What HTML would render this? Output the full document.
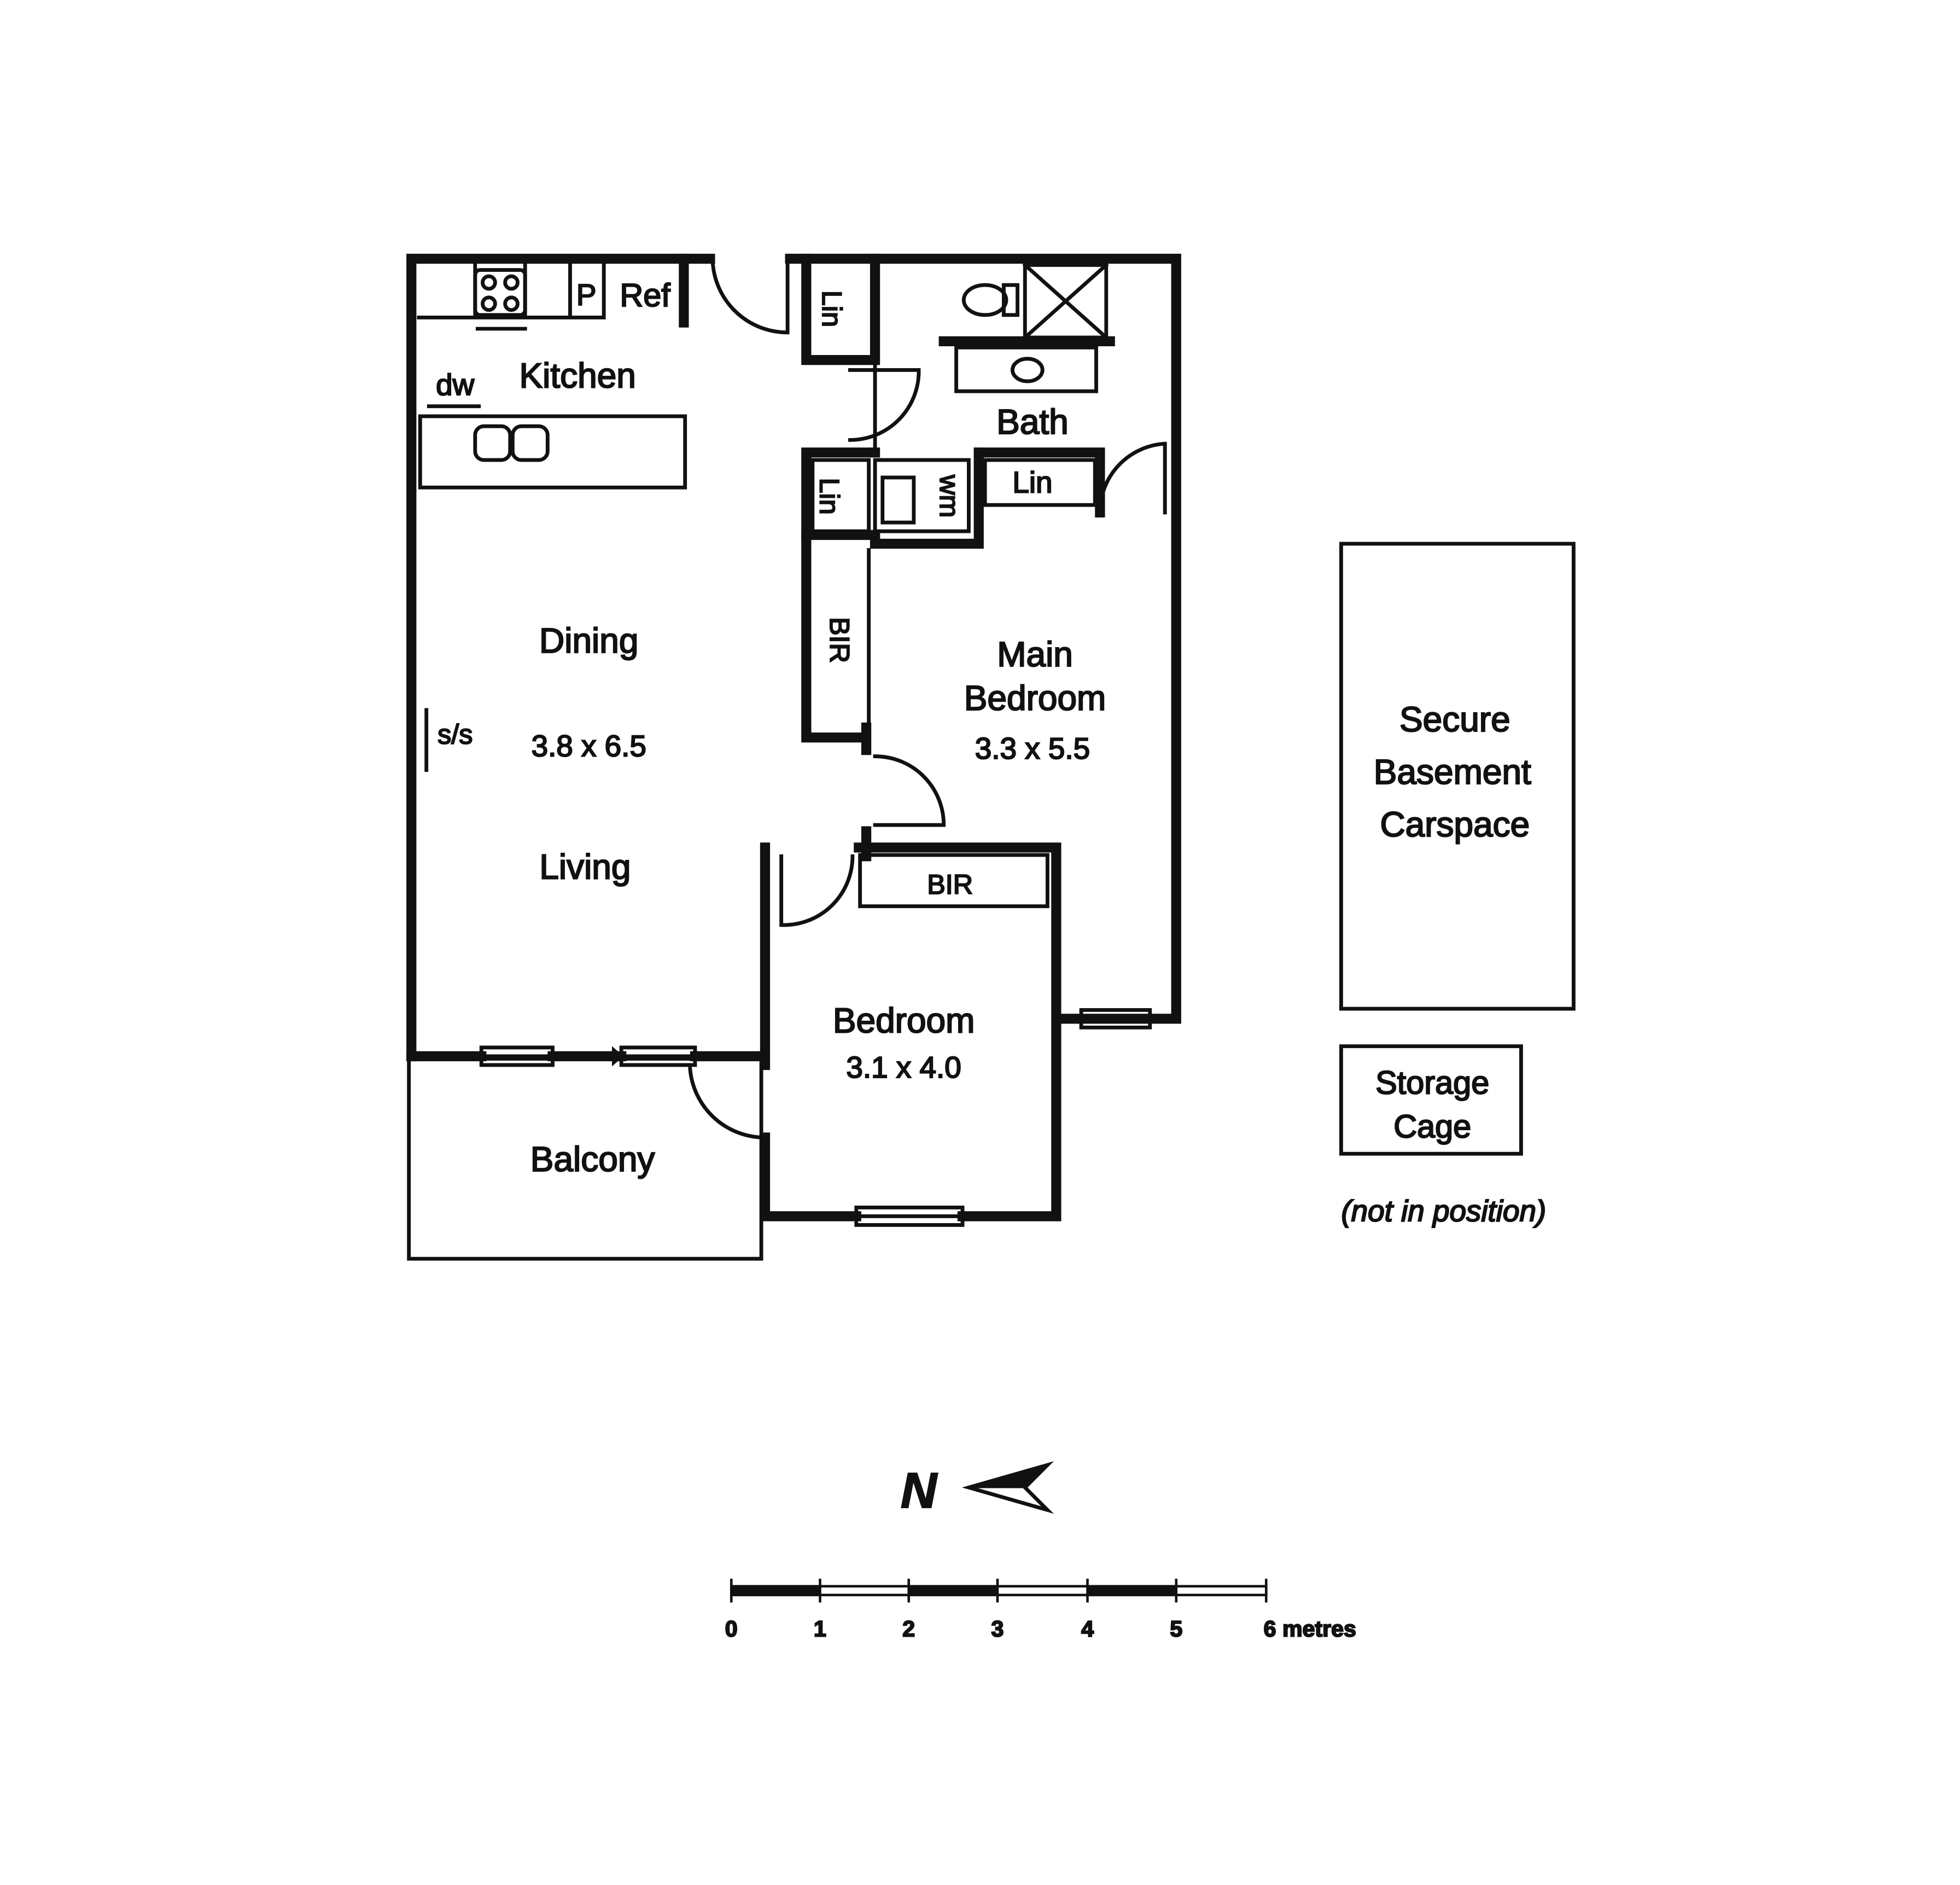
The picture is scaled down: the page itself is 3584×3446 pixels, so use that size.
<!DOCTYPE html>
<html><head><meta charset="utf-8"><style>
html,body{margin:0;padding:0;background:#fff}
svg{display:block}
text{font-family:"Liberation Sans",sans-serif;fill:#111}
</style></head><body>
<svg width="3584" height="3446" viewBox="0 0 1568 1508" xmlns="http://www.w3.org/2000/svg">
<rect width="1568" height="1508" fill="#fff"/>
<g stroke="#111" fill="none" stroke-linecap="square">
<g stroke-width="8">
<path d="M329 845 V207 H568"/>
<path d="M632 207 H941 V815 H850"/>
<path d="M329 845 H385 M442 845 H497 M556 845 H608"/>
<path d="M612 678 V852"/>
<path d="M612 910 V973 H685 M770 973 H845 V678 H687"/>
<path d="M547 207 V258"/>
<path d="M645 207 V288 M700 207 V288 M645 288 H700"/>
<path d="M645 362 V428 H700 M645 362 H700"/>
<path d="M645 428 V590 H693 M693 582 V600"/>
<path d="M693 665 V685"/>
<path d="M783 362 V435 H700 V428"/>
<path d="M783 362 H880 V410"/>
<path d="M755 273 H888"/>
</g>
<g stroke-width="3">
<rect x="327" y="847" width="282" height="160"/>
<path d="M335 254 H483 V212 M380 212 V254 M420 212 V254 M456 212 V254"/>
<rect x="336" y="333" width="212" height="57"/>
<path d="M343 325 H383"/>
<path d="M341 568 V616"/>
<rect x="688" y="684" width="150" height="41"/>
<path d="M695 440 V585"/>
<path d="M700 288 V362"/>
<path d="M650 368 H695 V425 H650Z"/>
<path d="M700 368 H775 V425 H700Z"/>
<rect x="706" y="382" width="25" height="36"/>
<path d="M788 368 H876 V404 H788Z"/>
<rect x="820" y="212" width="65" height="58"/>
<path d="M820 212 L885 270 M885 212 L820 270"/>
<rect x="765" y="278" width="112" height="35"/>
<ellipse cx="822" cy="296" rx="12" ry="9"/>
<ellipse cx="788" cy="240" rx="17" ry="12"/>
<path d="M803 228 V252 H814 V228 Z"/>
<rect x="380" y="216" width="40" height="36" rx="4"/>
<circle cx="391" cy="226" r="5"/><circle cx="409" cy="226" r="5"/>
<circle cx="391" cy="243" r="5"/><circle cx="409" cy="243" r="5"/>
<path d="M382 263 H420"/>
<rect x="380" y="341" width="28" height="27" rx="7"/>
<rect x="410" y="341" width="28" height="27" rx="7"/>
<path d="M570 207 A60 60 0 0 0 630 266 M630 207 V266"/>
<path d="M680 296 H735 A55 55 0 0 1 680 352"/>
<path d="M932 355 V410 M932 355 A55 55 0 0 0 880 410"/>
<path d="M700 605 A55 55 0 0 1 755 660 H700"/>
<path d="M625 740 V685 M625 740 A55 55 0 0 0 682 685"/>
<path d="M612 910 A60 60 0 0 1 552 855"/>
<path d="M442 845 H497"/>
<rect x="385" y="838" width="57" height="14"/><path d="M385 845 H442"/>
<rect x="497" y="838" width="59" height="14"/><path d="M497 845 H556"/>
<rect x="685" y="966" width="85" height="14"/><path d="M685 973 H770"/>
<rect x="865" y="808" width="55" height="14"/><path d="M865 815 H920"/>
<rect x="1073" y="435" width="186" height="372"/>
<rect x="1073" y="837" width="144" height="86"/>
</g>
<path d="M490 838 L498 845 L490 852Z" fill="#111"/>
<g font-size="28" text-anchor="middle">
<text x="462" y="310">Kitchen</text>
<text x="471" y="522">Dining</text>
<text x="471" y="605" font-size="24">3.8 x 6.5</text>
<text x="468" y="703">Living</text>
<text x="826" y="347">Bath</text>
<text x="828" y="533">Main</text>
<text x="828" y="568">Bedroom</text>
<text x="826" y="607" font-size="24">3.3 x 5.5</text>
<text x="723" y="826">Bedroom</text>
<text x="723" y="862" font-size="24">3.1 x 4.0</text>
<text x="474" y="937">Balcony</text>
<text x="1164" y="585">Secure</text>
<text x="1162" y="627">Basement</text>
<text x="1164" y="669">Carspace</text>
<text x="1146" y="875" font-size="26">Storage</text>
<text x="1146" y="910" font-size="26">Cage</text>
<text x="1155" y="977" font-size="24" font-style="italic">(not in position)</text>
<text x="469" y="244" font-size="24">P</text>
<text x="516" y="245" font-size="26">Ref</text>
<text x="364" y="316" font-size="24">dw</text>
<text x="364" y="595" font-size="22">s/s</text>
<text x="760" y="715" font-size="22">BIR</text>
<text x="826" y="394" font-size="24">Lin</text>
</g>
<g font-size="22" text-anchor="middle">
<text transform="translate(658 247) rotate(90)">Lin</text>
<text transform="translate(656 397) rotate(90)">Lin</text>
<text transform="translate(752 397) rotate(90)">wm</text>
<text transform="translate(664 512) rotate(90)">BIR</text>
</g>
<text x="735" y="1206" font-size="40" font-weight="bold" font-style="italic" text-anchor="middle">N</text>
<path d="M775 1190 L838 1172 L820 1190 L838 1208 Z" fill="none" stroke="#111" stroke-width="3"/>
<path d="M775 1190 L838 1172 L820 1190 Z" fill="#111"/>
<g stroke="#111">
<rect x="585" y="1269" width="428" height="7" fill="#fff" stroke-width="2"/>
<rect x="585" y="1269" width="71" height="7" fill="#111"/>
<rect x="727" y="1269" width="71" height="7" fill="#111"/>
<rect x="870" y="1269" width="71" height="7" fill="#111"/>
<path d="M585 1264 V1281 M656 1264 V1281 M727 1264 V1281 M798 1264 V1281 M870 1264 V1281 M941 1264 V1281 M1013 1264 V1281" stroke-width="2"/>
</g>
<g font-size="18" font-weight="bold" text-anchor="middle">
<text x="585" y="1309">0</text><text x="656" y="1309">1</text><text x="727" y="1309">2</text>
<text x="798" y="1309">3</text><text x="870" y="1309">4</text><text x="941" y="1309">5</text>
<text x="1048" y="1309">6 metres</text>
</g>
</svg>
</body></html>
